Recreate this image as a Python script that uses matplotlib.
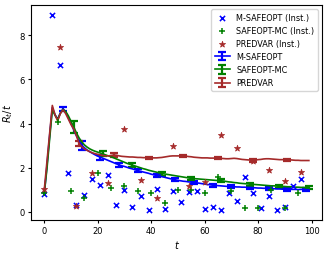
import numpy as np
import matplotlib
matplotlib.use("Agg")
import matplotlib.pyplot as plt

# ---- data ----
t = np.arange(100)

m_safeopt = [0.80, 2.10, 3.45, 4.72, 4.40, 4.20, 4.48, 4.66, 4.52, 4.28,
             4.00, 3.72, 3.45, 3.22, 3.02, 2.90, 2.80, 2.72, 2.65, 2.58,
             2.52, 2.47, 2.42, 2.37, 2.32, 2.27, 2.22, 2.17, 2.12, 2.08,
             2.05, 2.01, 1.97, 1.94, 1.90, 1.86, 1.83, 1.80, 1.77, 1.74,
             1.70, 1.67, 1.64, 1.62, 1.59, 1.56, 1.53, 1.50, 1.47, 1.44,
             1.42, 1.40, 1.38, 1.37, 1.35, 1.34, 1.32, 1.31, 1.29, 1.27,
             1.25, 1.23, 1.22, 1.20, 1.19, 1.18, 1.17, 1.16, 1.15, 1.14,
             1.13, 1.13, 1.12, 1.12, 1.11, 1.11, 1.10, 1.10, 1.09, 1.08,
             1.07, 1.07, 1.06, 1.06, 1.05, 1.05, 1.04, 1.03, 1.03, 1.02,
             1.02, 1.01, 1.01, 1.01, 1.01, 1.00, 1.01, 1.01, 1.00, 1.00]

safeopt_mc = [0.85, 1.95, 3.30, 4.62, 4.38, 4.18, 4.46, 4.64, 4.55, 4.35,
              4.10, 3.85, 3.58, 3.35, 3.17, 3.03, 2.93, 2.85, 2.79, 2.74,
              2.70, 2.66, 2.62, 2.57, 2.53, 2.49, 2.44, 2.39, 2.34, 2.29,
              2.24, 2.19, 2.15, 2.11, 2.07, 2.03, 1.99, 1.95, 1.92, 1.88,
              1.85, 1.82, 1.79, 1.76, 1.73, 1.71, 1.69, 1.67, 1.65, 1.63,
              1.61, 1.59, 1.57, 1.55, 1.53, 1.51, 1.50, 1.49, 1.48, 1.47,
              1.46, 1.45, 1.44, 1.43, 1.42, 1.41, 1.40, 1.39, 1.37, 1.35,
              1.34, 1.32, 1.31, 1.29, 1.28, 1.27, 1.26, 1.25, 1.24, 1.23,
              1.22, 1.21, 1.20, 1.19, 1.18, 1.17, 1.17, 1.16, 1.15, 1.15,
              1.14, 1.13, 1.13, 1.12, 1.11, 1.11, 1.10, 1.10, 1.09, 1.09]

predvar = [1.00, 2.28, 3.55, 4.82, 4.40, 4.12, 4.45, 4.62, 4.45, 4.20,
           3.95, 3.75, 3.45, 3.10, 2.95, 2.85, 2.78, 2.72, 2.67, 2.63,
           2.60, 2.57, 2.55, 2.53, 2.53, 2.55, 2.57, 2.56, 2.53, 2.51,
           2.50, 2.49, 2.48, 2.48, 2.47, 2.46, 2.46, 2.45, 2.45, 2.45,
           2.44, 2.44, 2.44, 2.45, 2.46, 2.48, 2.50, 2.52, 2.53, 2.53,
           2.53, 2.53, 2.53, 2.52, 2.50, 2.49, 2.47, 2.46, 2.45, 2.44,
           2.44, 2.44, 2.43, 2.43, 2.43, 2.42, 2.42, 2.41, 2.40, 2.40,
           2.41, 2.42, 2.41, 2.39, 2.37, 2.36, 2.35, 2.34, 2.33, 2.34,
           2.36, 2.37, 2.39, 2.40, 2.40, 2.39, 2.38, 2.37, 2.36, 2.36,
           2.36, 2.36, 2.35, 2.34, 2.33, 2.33, 2.32, 2.32, 2.32, 2.32]

# error bar half-widths at the marked steps
m_safeopt_err_t = [7, 14, 21, 28, 35, 42, 49, 56, 63, 70, 77, 84, 91, 98]
m_safeopt_err = [0.10, 0.20, 0.12, 0.09, 0.08, 0.08, 0.07, 0.07, 0.06, 0.06, 0.06, 0.06, 0.06, 0.06]
safeopt_mc_err_t = [11, 22, 33, 44, 55, 66, 77, 88, 99]
safeopt_mc_err = [0.27, 0.11, 0.10, 0.09, 0.08, 0.07, 0.07, 0.06, 0.06]
predvar_err_t = [13, 26, 39, 52, 65, 78, 91]
predvar_err = [0.11, 0.07, 0.05, 0.05, 0.05, 0.06, 0.04]

# instantaneous regret samples
m_inst_t = [0, 3, 6, 9, 12, 15, 18, 21, 24, 27, 30, 33, 36, 39, 42, 45, 48, 51,
            54, 57, 60, 63, 66, 69, 72, 75, 78, 81, 84, 87, 90, 93, 96]
m_inst = [0.79, 8.93, 6.64, 1.77, 0.30, 0.74, 1.50, 1.20, 1.66, 0.30, 0.98, 0.23,
          0.73, 0.07, 1.01, 0.14, 0.92, 0.42, 0.91, 0.95, 0.14, 0.23, 0.06, 0.86,
          0.48, 1.56, 0.86, 0.16, 0.71, 0.07, 0.23, 1.16, 1.48]
mc_inst_t = [0, 5, 10, 15, 20, 25, 30, 35, 40, 45, 50, 55, 60, 65, 70, 75, 80,
             85, 90, 95]
mc_inst = [0.85, 4.09, 0.94, 0.60, 1.77, 1.09, 1.18, 0.94, 0.83, 0.38, 0.97, 0.98,
           0.86, 1.59, 0.94, 0.16, 0.18, 0.97, 0.15, 0.83]
pv_inst_t = [0, 6, 12, 18, 24, 30, 36, 42, 48, 54, 60, 66, 72, 78, 84, 90, 96]
pv_inst = [1.01, 7.48, 0.26, 1.77, 1.32, 3.77, 1.44, 0.60, 2.98, 1.16, 1.36, 3.48,
           2.91, 2.30, 1.89, 1.39, 1.82]


def full_err(err_t, err):
    e = np.zeros(len(t))
    e[np.array(err_t)] = err
    return e


plt.rcParams['font.family'] = ['DejaVu Sans']
fig = plt.figure(figsize=(3.27, 2.55), dpi=100)
ax = fig.add_axes([0.095, 0.133, 0.89, 0.843])

blue = 'blue'
green = 'green'
red = 'brown'

ax.scatter(m_inst_t, m_inst, marker='x', color=blue, s=14, linewidths=1.1,
           label='M-SAFEOPT (Inst.)', zorder=3)
ax.scatter(mc_inst_t, mc_inst, marker='+', color=green, s=18, linewidths=1.1,
           label='SAFEOPT-MC (Inst.)', zorder=3)
ax.scatter(pv_inst_t, pv_inst, marker='*', color=red, s=22, linewidths=0.5,
           label='PREDVAR (Inst.)', zorder=3)

eb_kw = dict(elinewidth=1.6, capsize=3, capthick=1.6, lw=1.2)
ax.errorbar(t, m_safeopt, yerr=full_err(m_safeopt_err_t, m_safeopt_err),
            errorevery=(7, 7), color=blue, label='M-SAFEOPT', **eb_kw)
ax.errorbar(t, safeopt_mc, yerr=full_err(safeopt_mc_err_t, safeopt_mc_err),
            errorevery=(11, 11), color=green, label='SAFEOPT-MC', **eb_kw)
ax.errorbar(t, predvar, yerr=full_err(predvar_err_t, predvar_err),
            errorevery=(13, 13), color=red, label='PREDVAR', **eb_kw)

ax.set_xlabel('$t$', fontsize=7, labelpad=2)
ax.set_ylabel('$R_t/t$', fontsize=7, labelpad=3)
ax.tick_params(labelsize=6.0, length=2.5, width=0.8, pad=2)
ax.set_xticks([0, 20, 40, 60, 80, 100])
ax.set_yticks([0, 2, 4, 6, 8])

ax.legend(loc='upper right', fontsize=5.9, handlelength=1.8, borderpad=0.45,
          labelspacing=0.5, handletextpad=0.8, framealpha=0.8)

fig.savefig('out.png', dpi=100)
